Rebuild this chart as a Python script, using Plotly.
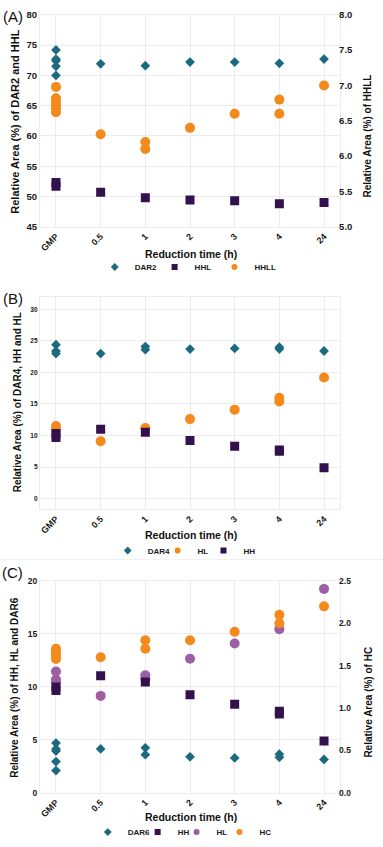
import plotly.graph_objects as go

# ---------------- data ----------------
CATS = ["GMP", "0.5", "1", "2", "3", "4", "24"]

# Panel A
A_DAR2_X = ["GMP"] * 5 + ["0.5", "1", "2", "3", "4", "24"]
A_DAR2 = [74.2, 72.7, 72.4, 71.5, 70.0, 71.9, 71.6, 72.2, 72.2, 72.0, 72.7]
A_HHL_X = ["GMP", "GMP", "0.5", "1", "2", "3", "4", "24"]
A_HHL = [52.3, 51.7, 50.7, 49.8, 49.4, 49.3, 48.8, 49.0]
A_HHLL_X = ["GMP"] * 6 + ["0.5", "1", "1", "2", "3", "4", "4", "24"]
A_HHLL = [6.98, 6.82, 6.77, 6.72, 6.67, 6.62, 6.31, 6.20, 6.10, 6.40, 6.60, 6.80, 6.60, 7.00]

# Panel B
B_DAR4_X = ["GMP"] * 3 + ["0.5", "1", "1", "2", "3", "4", "4", "24"]
B_DAR4 = [24.4, 23.4, 23.0, 23.0, 24.1, 23.6, 23.7, 23.8, 24.0, 23.7, 23.4]
B_HL_X = ["GMP", "GMP", "0.5", "1", "2", "3", "4", "4", "24"]
B_HL = [11.5, 10.8, 9.1, 11.2, 12.6, 14.1, 16.0, 15.4, 19.2]
B_HH_X = ["GMP", "GMP", "0.5", "1", "2", "3", "4", "4", "24"]
B_HH = [10.3, 9.7, 11.0, 10.5, 9.2, 8.3, 7.7, 7.5, 4.9]

# Panel C
C_DAR6_X = ["GMP"] * 5 + ["0.5", "1", "1", "2", "3", "4", "4", "24"]
C_DAR6 = [4.7, 4.15, 3.95, 2.95, 2.1, 4.15, 4.25, 3.6, 3.4, 3.3, 3.65, 3.35, 3.15]
C_HH_X = ["GMP", "GMP", "0.5", "1", "2", "3", "4", "4", "24"]
C_HH = [10.0, 9.65, 11.05, 10.45, 9.25, 8.35, 7.7, 7.45, 4.9]
C_HL_X = ["GMP"] * 3 + ["0.5", "1", "1", "2", "3", "4", "24"]
C_HL = [11.45, 10.7, 10.4, 9.15, 11.1, 10.75, 12.65, 14.1, 15.45, 19.25]
C_HC_X = ["GMP"] * 4 + ["0.5", "1", "1", "2", "3", "4", "4", "24"]
C_HC = [1.70, 1.66, 1.62, 1.58, 1.60, 1.80, 1.70, 1.80, 1.90, 2.10, 2.00, 2.20]

# ---------------- style ----------------
TEAL = "#1b6a7f"
DPURP = "#32114d"
ORANGE = "#f48a1c"
PINK = "#9c5fa3"
FONT = "Liberation Sans"
W, H = 383, 847
GRID = "#ececec"


def py(px_from_top):
    return 1 - px_from_top / H


XDOM = [39 / W, 340 / W]

fig = go.Figure()
legend_layout = {}
legfont = dict(family=FONT, size=8, color="#1a1a1a", weight="bold")


def add(x, y, sym, size, color, xa, ya, name):
    fig.add_trace(go.Scatter(x=x, y=y, mode="markers", xaxis=xa, yaxis=ya,
                             marker=dict(symbol=sym, size=size, color=color, line=dict(width=0)),
                             showlegend=False, name=name, hoverinfo="skip"))


def leg(sym, color, name, xa, ya, sx, sy):
    # one legend per entry so each entry sits where the reference places it
    idx = len(legend_layout) + 1
    key = "legend" if idx == 1 else f"legend{idx}"
    fig.add_trace(go.Scatter(x=[None], y=[None], mode="markers", xaxis=xa, yaxis=ya,
                             marker=dict(symbol=sym, size=6, color=color),
                             name=name, legend=key, showlegend=True))
    legend_layout[key] = dict(orientation="h", x=(sx - 26) / W, xanchor="left",
                              y=py(sy), yanchor="middle", font=legfont,
                              bgcolor="rgba(0,0,0,0)", itemwidth=30, borderwidth=0)


DS, SS, CS = 7.5, 9, 10

# Panel A
add(A_DAR2_X, A_DAR2, "diamond", DS, TEAL, "x", "y", "DAR2")
add(A_HHL_X, A_HHL, "square", SS, DPURP, "x", "y", "HHL")
add(A_HHLL_X, A_HHLL, "circle", CS, ORANGE, "x", "y2", "HHLL")
leg("diamond", TEAL, "DAR2", "x", "y", 120, 266)
leg("square", DPURP, "HHL", "x", "y", 180, 266)
leg("circle", ORANGE, "HHLL", "x", "y", 240, 266)

# Panel B
add(B_DAR4_X, B_DAR4, "diamond", DS, TEAL, "x2", "y3", "DAR4")
add(B_HL_X, B_HL, "circle", CS, ORANGE, "x2", "y3", "HL")
add(B_HH_X, B_HH, "square", SS, DPURP, "x2", "y3", "HH")
leg("diamond", TEAL, "DAR4", "x2", "y3", 133, 555)
leg("circle", ORANGE, "HL", "x2", "y3", 183, 555)
leg("square", DPURP, "HH", "x2", "y3", 229, 555)

# Panel C
add(C_DAR6_X, C_DAR6, "diamond", DS, TEAL, "x3", "y4", "DAR6")
add(C_HL_X, C_HL, "circle", CS, PINK, "x3", "y4", "HL")
add(C_HH_X, C_HH, "square", SS, DPURP, "x3", "y4", "HH")
add(C_HC_X, C_HC, "circle", CS, ORANGE, "x3", "y5", "HC")
leg("diamond", TEAL, "DAR6", "x3", "y4", 113, 842)
leg("square", DPURP, "HH", "x3", "y4", 163, 842)
leg("circle", PINK, "HL", "x3", "y4", 202, 842)
leg("circle", ORANGE, "HC", "x3", "y4", 245, 842)


def xaxis(anchor):
    return dict(domain=XDOM, anchor=anchor, type="category", categoryorder="array",
                categoryarray=CATS, range=[-0.36, 6.36], tickangle=-45,
                tickfont=dict(family=FONT, size=9, color="#1a1a1a", weight="bold"),
                showgrid=True, gridcolor=GRID, gridwidth=1, zeroline=False,
                showline=True, linecolor=GRID, mirror=True, ticks="", fixedrange=True)


def yaxis(dom, rng, dtick, fs, fmt="", side="left", overlay=None, anchor=None, grid=True, standoff=0):
    d = dict(domain=dom, range=rng, dtick=dtick, tick0=0, side=side,
             tickfont=dict(family=FONT, size=fs, color="#1a1a1a", weight="bold"),
             showgrid=grid, gridcolor=GRID, zeroline=False, ticks="",
             showline=True, linecolor=GRID, mirror=True, tickformat=fmt, fixedrange=True,
             ticklabelstandoff=standoff)
    if overlay:
        d["overlaying"] = overlay
        d["showline"] = False
        d["mirror"] = False
    if anchor:
        d["anchor"] = anchor
    return d


domA = [py(225), py(9)]
domB = [py(513), py(297)]
domC = [py(802), py(586)]

fig.update_layout(
    width=W, height=H,
    margin=dict(l=0, r=0, t=0, b=0),
    paper_bgcolor="white", plot_bgcolor="white",
    xaxis=xaxis("y"),
    yaxis=yaxis(domA, [45, 80], 5, 9.5, anchor="x"),
    yaxis2=yaxis(domA, [5, 8], 0.5, 9.5, fmt=".1f", side="right", overlay="y", anchor="x",
                 grid=False, standoff=-2),
    xaxis2=xaxis("y3"),
    yaxis3=yaxis(domB, [-1.7, 31.9], 5, 6.5, anchor="x2"),
    xaxis3=xaxis("y4"),
    yaxis4=yaxis(domC, [0, 20], 5, 8.5, anchor="x3"),
    yaxis5=yaxis(domC, [0, 2.5], 0.5, 8.5, fmt=".1f", side="right", overlay="y4", anchor="x3",
                 grid=False, standoff=-2),
    shapes=[dict(type="line", xref="paper", yref="paper", x0=0, x1=1,
                 y0=py(564), y1=py(564), line=dict(color="#f0f0f0", width=1))],
    **legend_layout,
)

ann = []


def text(x, y, s, size, angle=0, bold=True):
    ann.append(dict(x=x / W, y=py(y), xref="paper", yref="paper", text=s, showarrow=False,
                    textangle=angle, xanchor="center", yanchor="middle",
                    font=dict(family=FONT, size=size, color="#111111",
                              weight="bold" if bold else "normal")))


# panel labels
text(12, 11, "(A)", 15, bold=False)
text(12, 298, "(B)", 15, bold=False)
text(12, 577, "(C)", 15, bold=False)
# y titles
text(14, 118, "Relative Area (%) of DAR2 and HHL", 11, -90)
text(367, 133, "Relative Area (%) of HHLL", 10, -90)
text(16, 404, "Relative Area (%) of DAR4, HH and HL", 10, -90)
text(14, 695, "Relative Area (%) of HH, HL and DAR6", 10, -90)
text(369, 710, "Relative Area (%) of HC", 10, -90)
# x titles
text(190, 253, "Reduction time (h)", 10.5)
text(190, 539, "Reduction time (h)", 10.5)
text(190, 827, "Reduction time (h)", 10.5)

fig.update_layout(annotations=ann)

fig.write_html("out.html", config={"displayModeBar": False},
               post_script="document.body.style.margin='0px';"
                           "document.body.style.overflow='hidden';")
